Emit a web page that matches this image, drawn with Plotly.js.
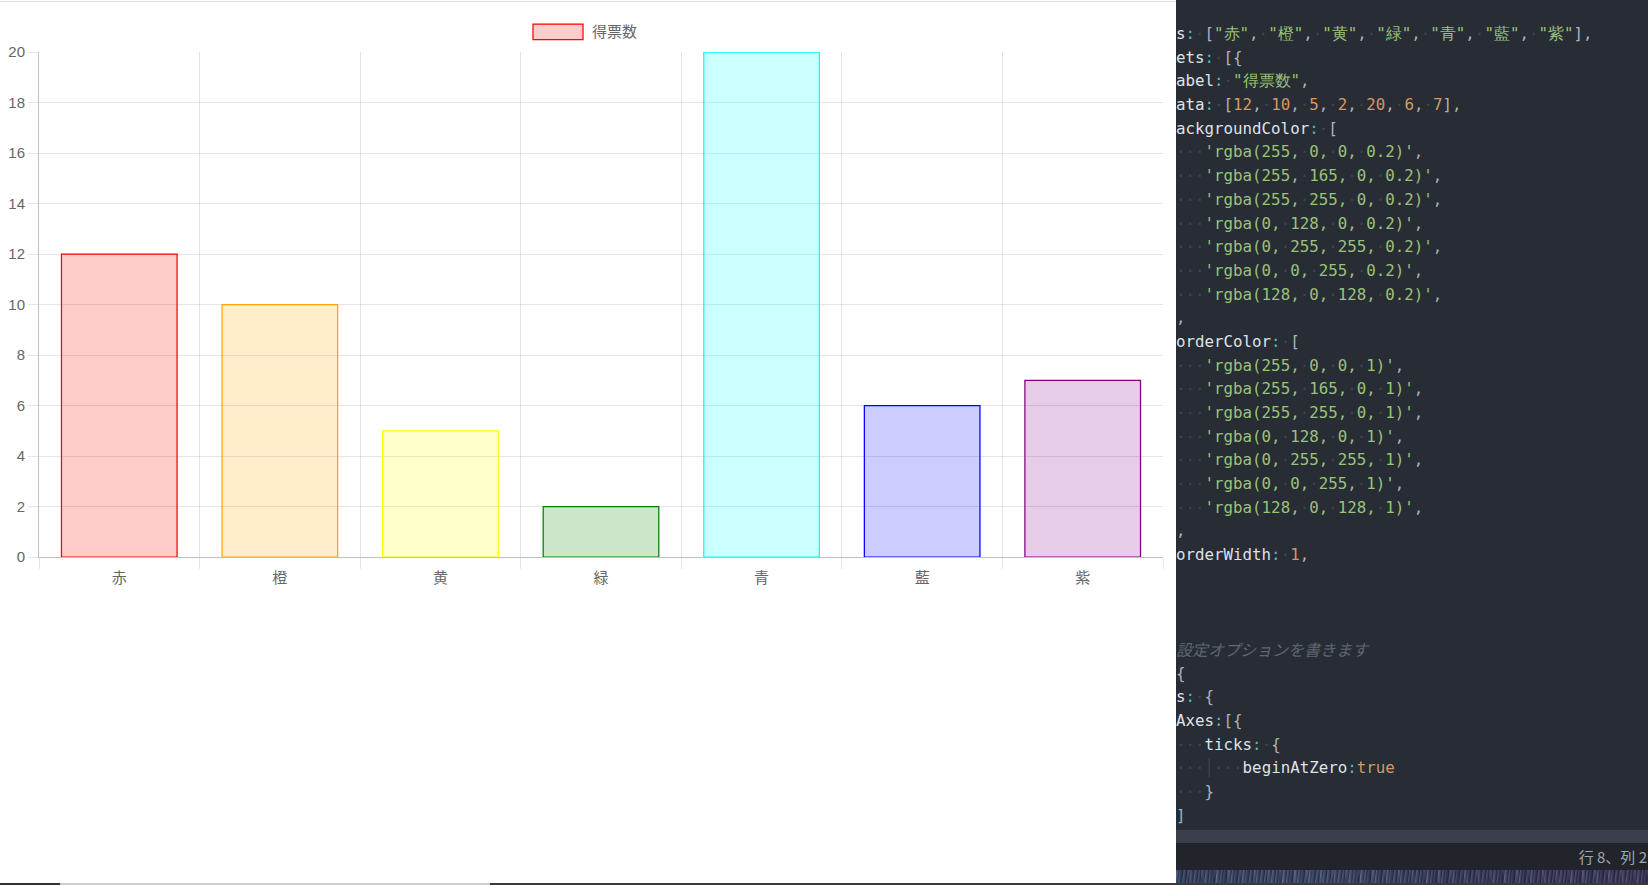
<!DOCTYPE html>
<html>
<head>
<meta charset="utf-8">
<script src="https://cdn.plot.ly/plotly-3.0.1.min.js"></script>
<style>
  html, body { margin:0; padding:0; width:1648px; height:885px; overflow:hidden; background:#fff; }
  #chart { position:absolute; left:0; top:0; width:1176px; height:885px; }
  #topline { position:absolute; left:0; top:1px; width:1176px; height:1px; background:#dedede; }
  #editor { position:absolute; left:1176px; top:0; width:472px; height:830px; background:#282c34; overflow:hidden; }
  #code { position:absolute; left:0; top:22px; font-family:"DejaVu Sans Mono","Liberation Mono",monospace; font-size:15.8px; line-height:23.7px; white-space:pre; color:#d7dae0; }
  #code .ln { height:23.7px; }
  .k { color:#dfe2e8; } .p { color:#56b6c2; } .b { color:#abb2bf; } .s { color:#98c379; }
  .n { color:#d19a66; } .ws { color:#3e4451; } .c { color:#5f6672; font-style:italic; font-family:"Noto Sans CJK JP",sans-serif; font-size:16px; }
  .g { color:#3e4451; }
  #scrollband { position:absolute; left:1176px; top:830px; width:472px; height:13px; background:#3a3f4b; }
  #status { position:absolute; left:1176px; top:843px; width:472px; height:27px; background:#21252b; overflow:hidden; }
  #status span { position:absolute; right:1px; top:3px; font-family:"Noto Sans CJK JP",sans-serif; font-size:15px; color:#9da5b4; }
  #wall { position:absolute; left:1176px; top:870px; width:472px; height:13px;
    background:
      repeating-linear-gradient(97deg, rgba(20,24,40,0.55) 0px, rgba(120,135,175,0.35) 1px, rgba(30,34,55,0.5) 3px, rgba(90,100,140,0.3) 4px, rgba(25,28,45,0.55) 7px, rgba(150,160,200,0.25) 8px, rgba(30,32,50,0.5) 11px),
      repeating-linear-gradient(83deg, rgba(0,0,0,0) 0px, rgba(160,170,210,0.2) 2px, rgba(0,0,0,0) 5px, rgba(0,0,0,0.2) 13px),
      linear-gradient(90deg, #34405c, #3e4a6a 30%, #383658 60%, #3a3052); }
  #bottom1 { position:absolute; left:0; top:883px; width:60px; height:2px; background:#2e3436; }
  #bottom2 { position:absolute; left:60px; top:883px; width:430px; height:2px; background:#cfcfcf; }
  #bottom3 { position:absolute; left:490px; top:883px; width:1158px; height:2px; background:#3a3a3a; }
</style>
</head>
<body>
<div id="topline"></div>
<div id="chart"></div>
<div id="editor"><div id="code"></div></div>
<div id="scrollband"></div>
<div id="status"><span>行 8、列 2</span></div>
<div id="wall"></div>
<div id="bottom1"></div><div id="bottom2"></div><div id="bottom3"></div>
<script>
// ---- data ----
const categories = ["赤", "橙", "黄", "緑", "青", "藍", "紫"];
const values = [12, 10, 5, 2, 20, 6, 7];
const seriesName = "得票数";
const rgbList = [[255,0,0],[255,165,0],[255,255,0],[0,128,0],[0,255,255],[0,0,255],[128,0,128]];
const fillAlpha = 0.2;
const yTicks = [0, 2, 4, 6, 8, 10, 12, 14, 16, 18, 20];

const fillColors = rgbList.map(c => `rgba(${c[0]}, ${c[1]}, ${c[2]}, ${fillAlpha})`);
const lineColors = rgbList.map(c => `rgba(${c[0]}, ${c[1]}, ${c[2]}, 1)`);

const font = '"Liberation Sans", Arial, "Noto Sans CJK JP", sans-serif';
const grid = 'rgba(0,0,0,0.1)';
const axisLine = 'rgba(0,0,0,0.25)';

const trace = {
  type: 'bar', x: categories, y: values, name: seriesName,
  marker: { color: fillColors, line: { color: lineColors, width: 1.25 } },
  hoverinfo: 'x+y'
};

const L = 39, R = 13, T = 52, B = 328, W = 1176, H = 885;
const pw = W - L - R, ph = H - T - B;
const px = v => (v - L) / pw;
const py = v => (H - B - v) / ph;

const layout = {
  width: W, height: H,
  margin: { l: L, r: R, t: T, b: B, pad: 0 },
  paper_bgcolor: 'rgba(0,0,0,0)', plot_bgcolor: 'rgba(0,0,0,0)',
  showlegend: false,
  bargap: 0.28,
  font: { family: font, size: 15, color: '#666' },
  xaxis: {
    type: 'category', tickson: 'boundaries', ticks: 'outside', ticklen: 11, tickcolor: grid, tickwidth: 1,
    showgrid: true, gridcolor: grid, gridwidth: 1, showline: true, linecolor: axisLine, linewidth: 1,
    ticklabelstandoff: 7,
    tickfont: { family: font, size: 15, color: '#666' }, fixedrange: true
  },
  yaxis: {
    range: [0, 20], tickvals: yTicks, ticks: 'outside', ticklen: 10, tickcolor: grid, tickwidth: 1,
    showgrid: true, gridcolor: grid, gridwidth: 1, showline: true, linecolor: axisLine, linewidth: 1,
    zeroline: false, tickfont: { family: font, size: 15, color: '#666' }, fixedrange: true
  },
  shapes: [{
    type: 'rect', xref: 'paper', yref: 'paper',
    x0: px(533), x1: px(583), y0: py(39.5), y1: py(24),
    fillcolor: fillColors[0], line: { color: lineColors[0], width: 1.25 }
  }],
  annotations: [{
    xref: 'paper', yref: 'paper', x: px(590), y: py(31.5), xanchor: 'left', yanchor: 'middle',
    text: seriesName, showarrow: false, font: { family: font, size: 15, color: '#666' }
  }]
};

Plotly.newPlot('chart', [trace], layout, { displayModeBar: false, staticPlot: true });

// ---- editor text (built from the same arrays) ----
const q = s => '"' + s + '"';
const codeLines = [
  's: [' + categories.map(q).join(', ') + '],',
  'ets: [{',
  'abel: ' + q(seriesName) + ',',
  'ata: [' + values.join(', ') + '],',
  'ackgroundColor: [',
  ...fillColors.map(c => "   '" + c + "',"),
  ',',
  'orderColor: [',
  ...lineColors.map(c => "   '" + c + "',"),
  ',',
  'orderWidth: 1,',
  '', '', '',
  '#C設定オプションを書きます',
  '{',
  's: {',
  'Axes:[{',
  '   ticks: {',
  '   │   beginAtZero:true',
  '   }',
  ']'
];

function esc(s){ return s.replace(/&/g,'&amp;').replace(/</g,'&lt;'); }
function highlight(line){
  if (line.startsWith('#C')) return '<span class="c">' + esc(line.slice(2)) + '</span>';
  const re = /("[^"]*"|'[^']*'|\d+(?:\.\d+)?|true|[A-Za-z_]+|:| |│|.)/g;
  let out = '', m;
  while ((m = re.exec(line)) !== null) {
    const t = m[0];
    let cls;
    if (t === ' ') { out += '<span class="ws">·</span>'; continue; }
    if (t === '│') cls = 'g';
    else if (t[0] === '"' || t[0] === "'") cls = 's';
    else if (/^\d/.test(t) || t === 'true') cls = 'n';
    else if (/^[A-Za-z_]/.test(t)) cls = 'k';
    else if (t === ':') cls = 'p';
    else cls = 'b';
    if (cls === 's') {
      out += '<span class="s">' + esc(t).replace(/ /g, '<span class="ws">·</span>') + '</span>';
    } else out += '<span class="' + cls + '">' + esc(t) + '</span>';
  }
  return out;
}
document.getElementById('code').innerHTML =
  codeLines.map(l => '<div class="ln">' + (highlight(l) || '&nbsp;') + '</div>').join('');
</script>
</body>
</html>
